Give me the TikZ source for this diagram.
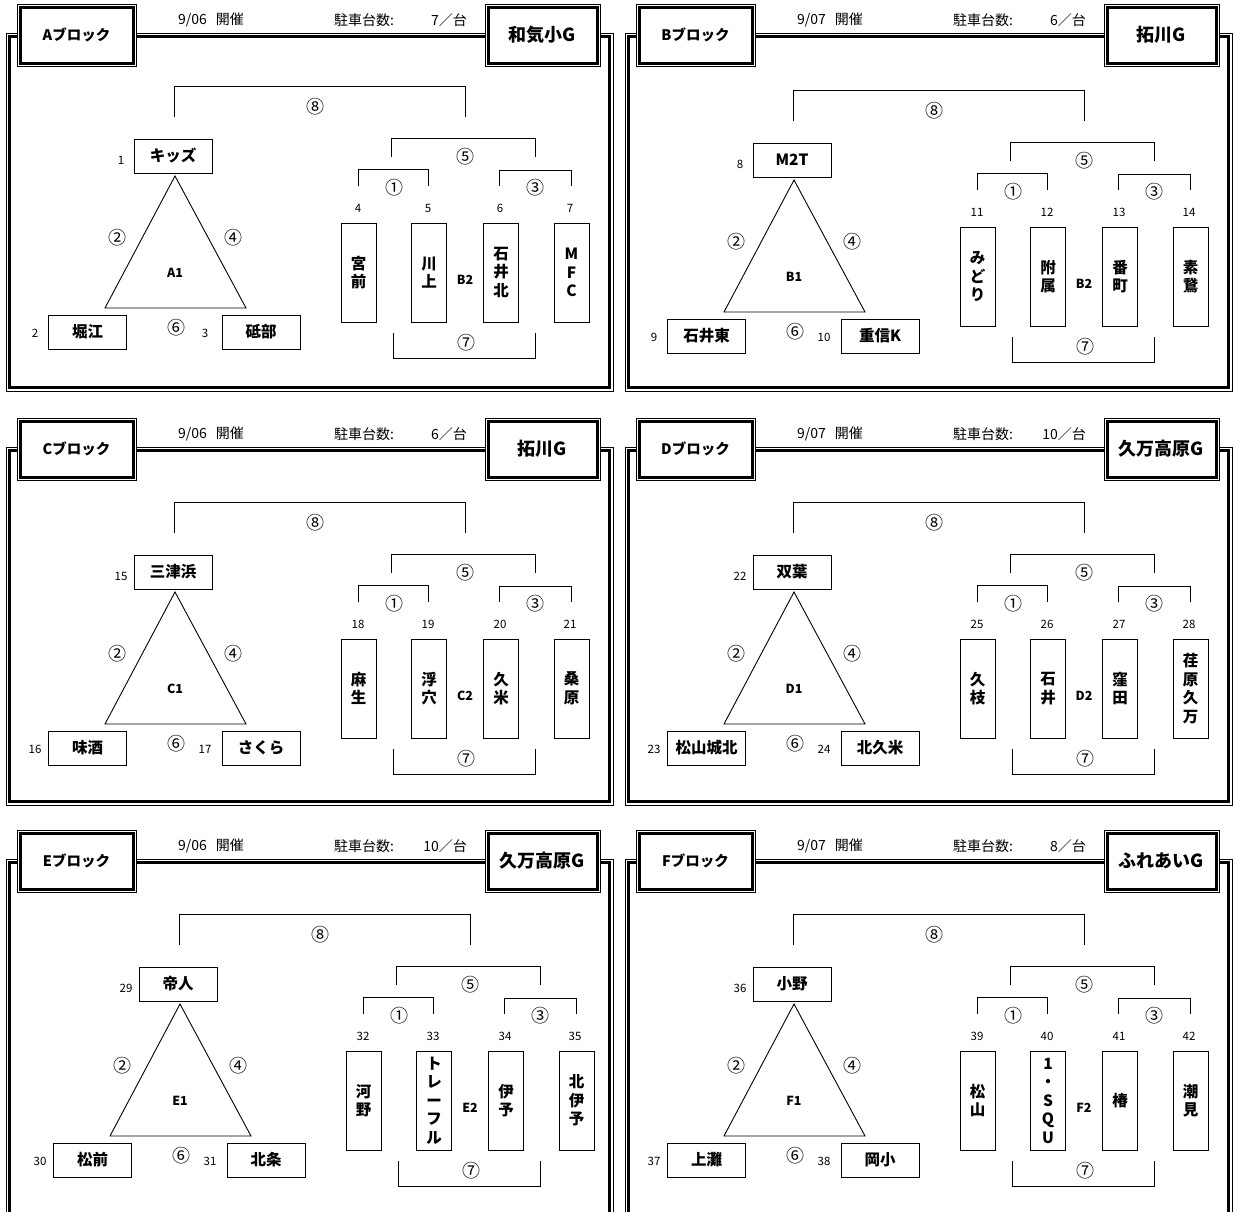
\documentclass[tikz,border=0pt]{standalone}
\usepackage{fontspec}
\setmainfont{Noto Sans CJK JP}
\tikzset{
  every node/.style={inner sep=0pt},
  ln/.style={line width=0.9pt},
  team/.style={draw, line width=0.9pt, minimum width=78pt, minimum height=34pt, font=\fontsize{15.5}{18}\selectfont\bfseries},
  vbox/.style={draw, line width=0.9pt, minimum width=35pt, minimum height=99pt, align=center, font=\fontsize{15.5}{18.5}\selectfont\bfseries},
  circ/.style={font=\fontsize{18}{18}\selectfont},
  numlbl/.style={font=\fontsize{11.5}{12}\selectfont},
  midlbl/.style={font=\fontsize{12.5}{13}\selectfont\bfseries},
  hdrtxt/.style={font=\fontsize{14}{14}\selectfont},
  hdrbox/.style={draw, line width=1pt, fill=white, minimum height=62pt},
  blktxt/.style={hdrbox, minimum width=119pt, font=\fontsize{14.5}{14}\selectfont\bfseries},
  venuetxt/.style={hdrbox, minimum width=115pt, font=\fontsize{18}{18}\selectfont\bfseries},
}
\newcommand\setteams[7]{\def\PTa{#1}\def\PTb{#2}\def\PTc{#3}\def\PTd{#4}\def\PTe{#5}\def\PTf{#6}\def\PTg{#7}}
\newcommand\setnums[9]{\def\PNa{#1}\def\PNb{#2}\def\PNc{#3}\def\PNd{#4}\def\PNe{#5}\def\PNf{#6}\def\PNg{#7}\def\PMa{#8}\def\PMb{#9}}
\newcommand\blockframe[7]{%
\begin{scope}[shift={(#1,#2)}]
  \draw[line width=1pt] (6,33) rectangle (613,391);
  \draw[line width=3pt] (9.5,36.5) rectangle (609.5,387.5);
  \node[blktxt] (#3blk) at (76.5,35) {#4};
  \draw[line width=3pt] ([shift={(3.5,3.5)}]#3blk.north west) rectangle ([shift={(-3.5,-3.5)}]#3blk.south east);
  \node[venuetxt] (#3ven) at (542.5,35) {#7};
  \draw[line width=3pt] ([shift={(3.5,3.5)}]#3ven.north west) rectangle ([shift={(-3.5,-3.5)}]#3ven.south east);
  \node[hdrtxt] (#3date) at (211,20) {#5};
  \node[hdrtxt, anchor=west] (#3park) at (334,20) {駐車台数:};
  \node[hdrtxt, anchor=east] (#3cnt) at (467,20) {#6／台};
\end{scope}}
\newcommand\blockcontent[3]{%
\begin{scope}[shift={(#1,#2)}]
  \node[team] (#3t1) at (173,156) {\PTa};
  \node[team] (#3t2) at (87.5,332) {\PTb};
  \node[team] (#3t3) at (261,332) {\PTc};
  \node[numlbl] (#3n1) at (121,160) {\PNa};
  \node[numlbl] (#3n2) at (35,333) {\PNb};
  \node[numlbl] (#3n3) at (205,333) {\PNc};
  \coordinate (#3apex) at (175,176);
  \coordinate (#3base1) at (105,308);
  \coordinate (#3base2) at (246,308);
  \draw[ln] (#3apex) -- (#3base1) -- (#3base2) -- cycle;
  \node[circ] (#3c2) at (117,238) {②};
  \node[circ] (#3c4) at (233,238) {④};
  \node[circ] (#3c6) at (176,328) {⑥};
  \node[midlbl] (#3m1) at (175,273) {\PMa};
  \node[vbox] (#3v4) at (358.5,272.5) {\PTd};
  \node[vbox] (#3v5) at (429,272.5) {\PTe};
  \node[vbox] (#3v6) at (501,272.5) {\PTf};
  \node[vbox] (#3v7) at (571.5,272.5) {\PTg};
  \node[numlbl] (#3n4) at (358,208) {\PNd};
  \node[numlbl] (#3n5) at (428,208) {\PNe};
  \node[numlbl] (#3n6) at (500,208) {\PNf};
  \node[numlbl] (#3n7) at (570,208) {\PNg};
  \node[midlbl] (#3m2) at (465,280) {\PMb};
  \coordinate (#3b1a) at (358,186);
  \coordinate (#3b1b) at (428,186);
  \draw[ln] (#3b1a) -- ++(0,-17) -| (#3b1b);
  \node[circ] (#3c1) at (394,188) {①};
  \coordinate (#3b3a) at (499,186);
  \coordinate (#3b3b) at (571,186);
  \draw[ln] (#3b3a) -- ++(0,-16) -| (#3b3b);
  \node[circ] (#3c3) at (535,188) {③};
  \coordinate (#3b5a) at (391,157);
  \coordinate (#3b5b) at (535,157);
  \draw[ln] (#3b5a) -- ++(0,-19) -| (#3b5b);
  \node[circ] (#3c5) at (465,157) {⑤};
  \coordinate (#3b8a) at (174,117);
  \coordinate (#3b8b) at (465,117);
  \draw[ln] (#3b8a) -- ++(0,-31) -| (#3b8b);
  \node[circ] (#3c8) at (315,107) {⑧};
  \coordinate (#3b7a) at (393,333);
  \coordinate (#3b7b) at (535,333);
  \draw[ln] (#3b7a) -- ++(0,25) -| (#3b7b);
  \node[circ] (#3c7) at (466,343) {⑦};
\end{scope}}
\begin{document}
\begin{tikzpicture}[x=1pt,y=-1pt]
\useasboundingbox (0,0) rectangle (1234,1211);
\clip (0,0) rectangle (1234,1211);
% A
\blockframe{0}{0}{A}{Aブロック}{9/06\hspace{9pt}開催}{7}{和気小G}
\setteams{キッズ}{堀江}{砥部}{宮\\前}{川\\上}{石\\井\\北}{M\\F\\C}
\setnums{1}{2}{3}{4}{5}{6}{7}{A1}{B2}
\blockcontent{0}{0}{A}
% B
\blockframe{619}{0}{B}{Bブロック}{9/07\hspace{9pt}開催}{6}{拓川G}
\setteams{M2T}{石井東}{重信K}{み\\ど\\り}{附\\属}{番\\町}{素\\鵞}
\setnums{8}{9}{10}{11}{12}{13}{14}{B1}{B2}
\blockcontent{619}{4}{B}
% C
\blockframe{0}{414}{C}{Cブロック}{9/06\hspace{9pt}開催}{6}{拓川G}
\setteams{三津浜}{味酒}{さくら}{麻\\生}{浮\\穴}{久\\米}{桑\\原}
\setnums{15}{16}{17}{18}{19}{20}{21}{C1}{C2}
\blockcontent{0}{416}{C}
% D
\blockframe{619}{414}{D}{Dブロック}{9/07\hspace{9pt}開催}{10}{久万高原G}
\setteams{双葉}{松山城北}{北久米}{久\\枝}{石\\井}{窪\\田}{荏\\原\\久\\万}
\setnums{22}{23}{24}{25}{26}{27}{28}{D1}{D2}
\blockcontent{619}{416}{D}
% E
\blockframe{0}{826}{E}{Eブロック}{9/06\hspace{9pt}開催}{10}{久万高原G}
\setteams{帝人}{松前}{北条}{河\\野}{ト\\レ\\ー\\フ\\ル}{伊\\予}{北\\伊\\予}
\setnums{29}{30}{31}{32}{33}{34}{35}{E1}{E2}
\blockcontent{5}{828}{E}
% F
\blockframe{619}{826}{F}{Fブロック}{9/07\hspace{9pt}開催}{8}{ふれあいG}
\setteams{小野}{上灘}{岡小}{松\\山}{1\\・\\S\\Q\\U}{椿}{潮\\見}
\setnums{36}{37}{38}{39}{40}{41}{42}{F1}{F2}
\blockcontent{619}{828}{F}
\end{tikzpicture}
\end{document}
